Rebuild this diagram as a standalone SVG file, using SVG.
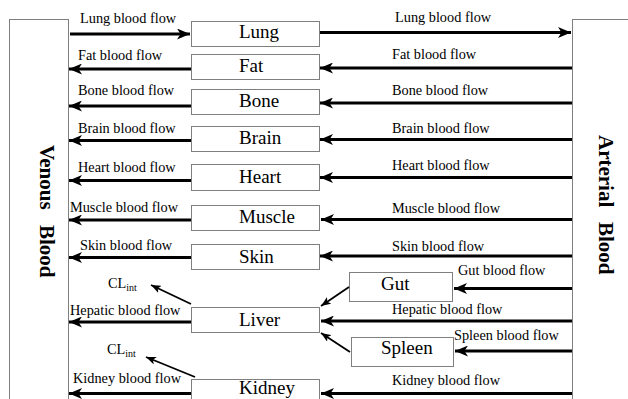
<svg xmlns="http://www.w3.org/2000/svg" width="628" height="399" viewBox="0 0 628 399">
<defs>
<marker id="ah" markerUnits="userSpaceOnUse" markerWidth="13" markerHeight="11" refX="13" refY="5.5" orient="auto" viewBox="0 0 13 11"><path d="M0,0 L13,5.5 L0,11 L3.5,5.5 z" fill="#000"/></marker>
<marker id="as" markerUnits="userSpaceOnUse" markerWidth="10" markerHeight="8" refX="10" refY="4" orient="auto" viewBox="0 0 10 8"><path d="M0,0 L10,4 L0,8 L2.5,4 z" fill="#000"/></marker>
<style>
.box{fill:#fff;stroke:#7f7f7f;stroke-width:1}
.organ{font-family:"Liberation Serif","Times New Roman",serif;font-size:19px;fill:#000}
.lbl{font-family:"Liberation Serif","Times New Roman",serif;font-size:14.3px;fill:#000}
.side{font-family:"Liberation Serif","Times New Roman",serif;font-size:21px;font-weight:bold;fill:#000}
.thick{stroke:#000;stroke-width:3;fill:none;marker-end:url(#ah)}
.thin{stroke:#000;stroke-width:1.8;fill:none;marker-end:url(#as)}
</style>
</defs>
<rect width="628" height="399" fill="#fff"/>

<g id="venous">
<rect class="box" x="9.5" y="19.5" width="59" height="390"/>
<text class="side" transform="translate(40,145) rotate(90)"><tspan x="0" y="0">Venous</tspan><tspan x="80" y="0">Blood</tspan></text>
</g>
<g id="arterial">
<rect class="box" x="572.5" y="19.5" width="70" height="390"/>
<text class="side" transform="translate(599,135) rotate(90)"><tspan x="0" y="0">Arterial</tspan><tspan x="87" y="0">Blood</tspan></text>
</g>

<g id="lung"><rect class="box" x="191.5" y="21.5" width="128" height="25"/><text class="organ" x="239" y="38">Lung</text></g>
<g id="fat"><rect class="box" x="191.5" y="54.5" width="128" height="25"/><text class="organ" x="239" y="72">Fat</text></g>
<g id="bone"><rect class="box" x="191.5" y="89.5" width="128" height="25"/><text class="organ" x="239" y="107">Bone</text></g>
<g id="brain"><rect class="box" x="191.5" y="126.5" width="128" height="25"/><text class="organ" x="239" y="144">Brain</text></g>
<g id="heart"><rect class="box" x="191.5" y="164.5" width="128" height="26"/><text class="organ" x="239" y="183">Heart</text></g>
<g id="muscle"><rect class="box" x="191.5" y="205.5" width="128" height="25"/><text class="organ" x="239" y="223">Muscle</text></g>
<g id="skin"><rect class="box" x="191.5" y="244.5" width="128" height="25"/><text class="organ" x="239" y="263">Skin</text></g>
<g id="liver"><rect class="box" x="191.5" y="307.5" width="128" height="25"/><text class="organ" x="239" y="326">Liver</text></g>
<g id="kidney"><rect class="box" x="191.5" y="379.5" width="128" height="30"/><text class="organ" x="239" y="394">Kidney</text></g>
<g id="gut"><rect class="box" x="349.5" y="272.5" width="103" height="29"/><text class="organ" x="381" y="290">Gut</text></g>
<g id="spleen"><rect class="box" x="351.5" y="337.5" width="102" height="29"/><text class="organ" x="381" y="354">Spleen</text></g>

<g id="connectors">
<line class="thick" x1="70" y1="34" x2="190" y2="34"/>
<line class="thick" x1="320" y1="32.5" x2="571" y2="32.5"/>
<line class="thick" x1="191" y1="69" x2="69" y2="69"/>
<line class="thick" x1="572" y1="68" x2="320" y2="68"/>
<line class="thick" x1="191" y1="106" x2="69" y2="106"/>
<line class="thick" x1="572" y1="103" x2="320" y2="103"/>
<line class="thick" x1="191" y1="140.5" x2="69" y2="140.5"/>
<line class="thick" x1="572" y1="139.5" x2="320" y2="139.5"/>
<line class="thick" x1="191" y1="180.5" x2="69" y2="180.5"/>
<line class="thick" x1="572" y1="177.5" x2="320" y2="177.5"/>
<line class="thick" x1="191" y1="220" x2="69" y2="220"/>
<line class="thick" x1="572" y1="219.5" x2="321" y2="219.5"/>
<line class="thick" x1="191" y1="257.5" x2="69" y2="257.5"/>
<line class="thick" x1="572" y1="256" x2="320" y2="256"/>
<line class="thick" x1="191" y1="322" x2="69" y2="322"/>
<line class="thick" x1="572" y1="321" x2="321" y2="321"/>
<line class="thick" x1="191" y1="393.5" x2="69" y2="393.5"/>
<line class="thick" x1="572" y1="393.5" x2="321" y2="393.5"/>
<line class="thick" x1="572" y1="288.5" x2="454" y2="288.5"/>
<line class="thick" x1="572" y1="351" x2="455" y2="351"/>
<line class="thin" x1="349" y1="287" x2="321" y2="306"/>
<line class="thin" x1="350" y1="352" x2="321" y2="333"/>
<line class="thin" x1="191" y1="304" x2="151" y2="285"/>
<line class="thin" x1="195" y1="377" x2="146" y2="357"/>
</g>

<g id="labels">
<text class="lbl" x="80" y="23">Lung blood flow</text>
<text class="lbl" x="395" y="21.5">Lung blood flow</text>
<text class="lbl" x="78" y="59.5">Fat blood flow</text>
<text class="lbl" x="392" y="59">Fat blood flow</text>
<text class="lbl" x="78" y="95">Bone blood flow</text>
<text class="lbl" x="392" y="95">Bone blood flow</text>
<text class="lbl" x="78" y="133">Brain blood flow</text>
<text class="lbl" x="392" y="133">Brain blood flow</text>
<text class="lbl" x="78" y="171.5">Heart blood flow</text>
<text class="lbl" x="392" y="169.5">Heart blood flow</text>
<text class="lbl" x="70" y="211.5">Muscle blood flow</text>
<text class="lbl" x="392" y="212.5">Muscle blood flow</text>
<text class="lbl" x="80" y="249.5">Skin blood flow</text>
<text class="lbl" x="392" y="250.5">Skin blood flow</text>
<text class="lbl" x="458" y="275">Gut blood flow</text>
<text class="lbl" x="70" y="315">Hepatic blood flow</text>
<text class="lbl" x="392" y="313.5">Hepatic blood flow</text>
<text class="lbl" x="454" y="340">Spleen blood flow</text>
<text class="lbl" x="73" y="383">Kidney blood flow</text>
<text class="lbl" x="392" y="385">Kidney blood flow</text>
<text class="lbl" x="108" y="288">CL<tspan font-size="10" dy="3">int</tspan></text>
<text class="lbl" x="107" y="354">CL<tspan font-size="10" dy="3">int</tspan></text>
</g>
</svg>
